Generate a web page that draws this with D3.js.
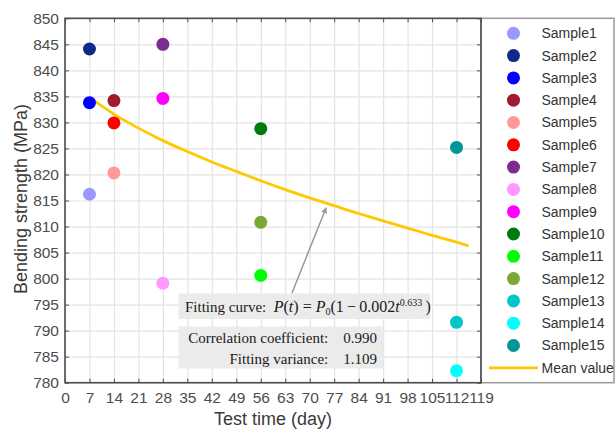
<!DOCTYPE html>
<html>
<head>
<meta charset="utf-8">
<script src="https://cdn.jsdelivr.net/npm/d3@7"></script>
<style>
    body { margin: 0; background: #fff; }
    svg { display: block; }
</style>
</head>
<body>
<svg id="chart" width="616" height="430"></svg>
<script>
// ---- data ----
const samples = ['Sample1', 'Sample2', 'Sample3', 'Sample4', 'Sample5', 'Sample6', 'Sample7', 'Sample8',
    'Sample9', 'Sample10', 'Sample11', 'Sample12', 'Sample13', 'Sample14', 'Sample15'];
const sampleDays = [7, 7, 7, 14, 14, 14, 28, 28, 28, 56, 56, 56, 112, 112, 112];
const sampleStrength = [816.2, 844.1, 833.8, 834.2, 820.3, 829.9, 845.0, 799.1, 834.6,
    828.8, 800.6, 810.8, 791.6, 782.3, 825.2];
const sampleColors = ['#9999ff', '#13298a', '#0000ff', '#9e1b32', '#ff9999', '#ff0000', '#7b2c8e', '#ff99ff',
    '#ff00ff', '#007a0a', '#00ff00', '#79a834', '#00c6c9', '#00ffff', '#009696'];

const meanDays = [7, 14, 21, 28, 35, 42, 49, 56, 63, 70, 77, 84, 91, 98, 105, 112, 115.5];
const meanStrength = [834.8, 831.6, 828.9, 826.5, 824.4, 822.4, 820.6, 818.8, 817.1,
    815.5, 814.0, 812.5, 811.1, 809.7, 808.3, 807.0, 806.3];

const xTicks = [0, 7, 14, 21, 28, 35, 42, 49, 56, 63, 70, 77, 84, 91, 98, 105, 112, 119];
const yTicks = [780, 785, 790, 795, 800, 805, 810, 815, 820, 825, 830, 835, 840, 845, 850];

// arrow from the text box up to the curve, in data units
const arrowFrom = [64.9, 797.2];
const arrowTo = [74.7, 813.6];

// ---- layout ----
const width = 616;
const height = 430;
const plotLeft = 65;
const plotRight = 481;
const plotTop = 18.3;
const plotBottom = 382.7;
const axisColor = '#4d4d4d';
const sans = 'Arial, "Liberation Sans", sans-serif';
const serif = '"Times New Roman", "Liberation Serif", serif';

const svg = d3.select('#chart')
    .attr('viewBox', `0 0 ${width} ${height}`);

const xScale = d3.scaleLinear()
    .domain([0, 119])
    .range([plotLeft, plotRight]);

const yScale = d3.scaleLinear()
    .domain([780, 850])
    .range([plotBottom, plotTop]);

//----------------------------------------------------------------------------
// legend box (behind the plot frame)
svg.append('rect')
    .attr('x', plotRight)
    .attr('y', plotTop)
    .attr('width', 614 - plotRight)
    .attr('height', plotBottom - plotTop)
    .attr('fill', '#fff')
    .attr('stroke', '#9a9a9a')
    .attr('stroke-width', 1.5);

//----------------------------------------------------------------------------
// grid
svg.append('g')
    .attr('transform', `translate(0, ${plotBottom})`)
    .call(d3.axisBottom(xScale).tickValues(xTicks).tickSize(-(plotBottom - plotTop)).tickFormat(''))
    .call(g => g.select('.domain').remove())
    .call(g => g.selectAll('line').attr('stroke', '#e3e3e3').attr('stroke-width', 1.2));

svg.append('g')
    .attr('transform', `translate(${plotLeft}, 0)`)
    .call(d3.axisLeft(yScale).tickValues(yTicks).tickSize(-(plotRight - plotLeft)).tickFormat(''))
    .call(g => g.select('.domain').remove())
    .call(g => g.selectAll('line').attr('stroke', '#e3e3e3').attr('stroke-width', 1.2));

//----------------------------------------------------------------------------
// axes with inward ticks on all four sides
const styleAxis = g => {
    g.select('.domain').remove();
    g.selectAll('line').attr('stroke', axisColor).attr('stroke-width', 1);
    g.selectAll('text')
        .attr('fill', axisColor)
        .style('font-family', sans)
        .style('font-size', '15.5px');
};

svg.append('g')
    .attr('transform', `translate(0, ${plotBottom})`)
    .call(d3.axisBottom(xScale).tickValues(xTicks).tickSizeInner(-4).tickSizeOuter(0).tickPadding(9))
    .call(styleAxis);

svg.append('g')
    .attr('transform', `translate(${plotLeft}, 0)`)
    .call(d3.axisLeft(yScale).tickValues(yTicks).tickSizeInner(-4).tickSizeOuter(0).tickPadding(6))
    .call(styleAxis);

svg.append('g')
    .attr('transform', `translate(0, ${plotTop})`)
    .call(d3.axisTop(xScale).tickValues(xTicks).tickSizeInner(-4).tickSizeOuter(0).tickFormat(''))
    .call(styleAxis);

svg.append('g')
    .attr('transform', `translate(${plotRight}, 0)`)
    .call(d3.axisRight(yScale).tickValues(yTicks).tickSizeInner(-4).tickSizeOuter(0).tickFormat(''))
    .call(styleAxis);

svg.append('rect')
    .attr('x', plotLeft)
    .attr('y', plotTop)
    .attr('width', plotRight - plotLeft)
    .attr('height', plotBottom - plotTop)
    .attr('fill', 'none')
    .attr('stroke', axisColor)
    .attr('stroke-width', 1.6);

// axis titles
svg.append('text')
    .attr('x', 273)
    .attr('y', 424.5)
    .attr('text-anchor', 'middle')
    .attr('fill', '#3a3a3a')
    .style('font-family', sans)
    .style('font-size', '18px')
    .text('Test time (day)');

svg.append('text')
    .attr('transform', 'translate(26.5, 199) rotate(-90)')
    .attr('text-anchor', 'middle')
    .attr('fill', '#3a3a3a')
    .style('font-family', sans)
    .style('font-size', '18px')
    .text('Bending strength (MPa)');

//----------------------------------------------------------------------------
// mean curve
const meanLine = d3.line()
    .x(d => xScale(d[0]))
    .y(d => yScale(d[1]))
    .curve(d3.curveMonotoneX);

svg.append('path')
    .attr('d', meanLine(d3.zip(meanDays, meanStrength)))
    .attr('fill', 'none')
    .attr('stroke', '#ffc800')
    .attr('stroke-width', 2.8);

// sample points
svg.append('g')
    .selectAll('circle')
    .data(samples)
    .join('circle')
    .attr('cx', (d, i) => xScale(sampleDays[i]))
    .attr('cy', (d, i) => yScale(sampleStrength[i]))
    .attr('r', 6.5)
    .attr('fill', (d, i) => sampleColors[i]);

//----------------------------------------------------------------------------
// annotation arrow
svg.append('defs')
    .append('marker')
    .attr('id', 'head')
    .attr('viewBox', '0 0 10 10')
    .attr('refX', 9)
    .attr('refY', 5)
    .attr('markerWidth', 4)
    .attr('markerHeight', 4)
    .attr('orient', 'auto')
    .append('path')
    .attr('d', 'M0,0 L10,5 L0,10 z')
    .attr('fill', '#999');

svg.append('line')
    .attr('x1', xScale(arrowFrom[0]))
    .attr('y1', yScale(arrowFrom[1]))
    .attr('x2', xScale(arrowTo[0]))
    .attr('y2', yScale(arrowTo[1]))
    .attr('stroke', '#999')
    .attr('stroke-width', 1.5)
    .attr('marker-end', 'url(#head)');

// text boxes
svg.append('rect')
    .attr('x', 178.5).attr('y', 293.5)
    .attr('width', 251.5).attr('height', 25.5)
    .attr('fill', '#ebebeb');

svg.append('rect')
    .attr('x', 178.5).attr('y', 326.5)
    .attr('width', 205).attr('height', 42)
    .attr('fill', '#ebebeb');

const fit = svg.append('text')
    .attr('x', 185)
    .attr('y', 311.5)
    .attr('fill', '#1a1a1a')
    .style('font-family', serif)
    .style('font-size', '15px');

const parts = [
    ['Fitting curve:\u2002', 'normal', 0, 15],
    ['P', 'italic', 0, 16],
    ['(', 'normal', 0, 16],
    ['t', 'italic', 0, 16],
    [') = ', 'normal', 0, 16],
    ['P', 'italic', 0, 16],
    ['0', 'normal', 3.5, 10],
    ['(1\u2009\u2212\u20090.002', 'normal', -3.5, 16],
    ['t', 'italic', 0, 16],
    ['0.633', 'normal', -6, 10],
    ['\u2009)', 'normal', 6, 16]
];

fit.selectAll('tspan')
    .data(parts)
    .join('tspan')
    .attr('dy', d => d[2])
    .style('font-style', d => d[1])
    .style('font-size', d => d[3] + 'px')
    .text(d => d[0]);

svg.append('text')
    .attr('x', 377)
    .attr('y', 343)
    .attr('text-anchor', 'end')
    .attr('fill', '#1a1a1a')
    .style('font-family', serif)
    .style('font-size', '15px')
    .text('Correlation coefficient:\u20030.990');

svg.append('text')
    .attr('x', 377)
    .attr('y', 363.5)
    .attr('text-anchor', 'end')
    .attr('fill', '#1a1a1a')
    .style('font-family', serif)
    .style('font-size', '15px')
    .text('Fitting variance:\u20031.109');

//----------------------------------------------------------------------------
// legend
const legendTop = 33.3;
const legendStep = 22.3;

const legend = svg.append('g');

legend.selectAll('circle')
    .data(samples)
    .join('circle')
    .attr('cx', 513.5)
    .attr('cy', (d, i) => legendTop + i * legendStep)
    .attr('r', 6.5)
    .attr('fill', (d, i) => sampleColors[i]);

legend.selectAll('text')
    .data(samples.concat(['Mean value']))
    .join('text')
    .attr('x', 541.5)
    .attr('y', (d, i) => legendTop + i * legendStep)
    .attr('dy', '0.35em')
    .attr('fill', '#333')
    .style('font-family', sans)
    .style('font-size', '14px')
    .text(d => d);

legend.append('line')
    .attr('x1', 489)
    .attr('x2', 538)
    .attr('y1', legendTop + samples.length * legendStep)
    .attr('y2', legendTop + samples.length * legendStep)
    .attr('stroke', '#ffc800')
    .attr('stroke-width', 2.8);
</script>
</body>
</html>
